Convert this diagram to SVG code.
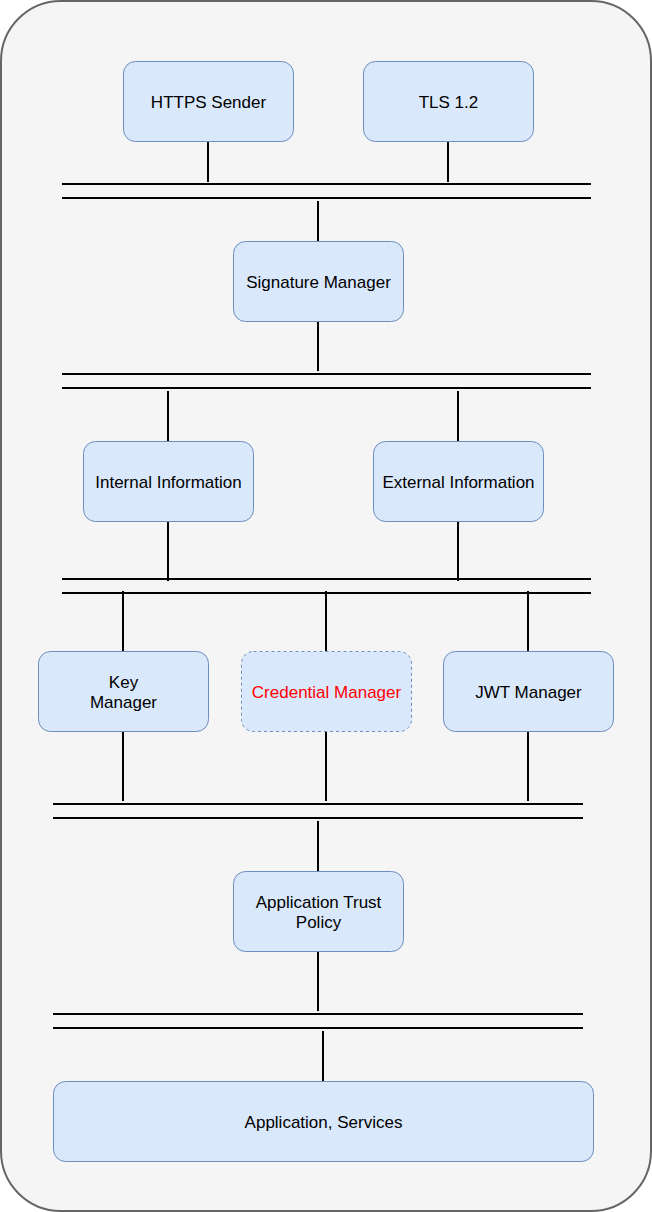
<svg xmlns="http://www.w3.org/2000/svg" width="652" height="1212" viewBox="0 0 652 1212">
<style>
.box{fill:#dae8fc;stroke:#6c8ebf;stroke-width:1}
.dash{stroke-dasharray:3 3}
.t{font-family:"Liberation Sans",Arial,sans-serif;font-size:17px;fill:#000;text-anchor:middle}
.red{fill:#ff0000}
.ln{stroke:#000;stroke-width:2;fill:none}
</style>
<rect x="1" y="1" width="650" height="1210" rx="60" ry="60" fill="#f5f5f5" stroke="#666666" stroke-width="2"/>
<g id="connectors">
<path class="ln" d="M62 184H591M62 198H591"/>
<path class="ln" d="M62 374H591M62 388H591"/>
<path class="ln" d="M62 579H591M62 593H591"/>
<path class="ln" d="M53 804H583M53 818H583"/>
<path class="ln" d="M53 1014H583M53 1028H583"/>
<path class="ln" d="M208 141V182M448 141V182"/>
<path class="ln" d="M318 201V241M318 321V371"/>
<path class="ln" d="M168 391V441M458 391V441"/>
<path class="ln" d="M168 521V581M458 521V581"/>
<path class="ln" d="M123 591V651M326 591V651M528 591V651"/>
<path class="ln" d="M123 731V801M326 731V801M528 731V801"/>
<path class="ln" d="M318 821V871M318 951V1011"/>
<path class="ln" d="M323 1031V1081"/>
</g>
<g id="https-sender"><rect class="box" x="123.5" y="61.5" width="170" height="80" rx="12"/><text class="t" x="208.5" y="107.5">HTTPS Sender</text></g>
<g id="tls"><rect class="box" x="363.5" y="61.5" width="170" height="80" rx="12"/><text class="t" x="448.5" y="107.5">TLS 1.2</text></g>
<g id="signature-manager"><rect class="box" x="233.5" y="241.5" width="170" height="80" rx="12"/><text class="t" x="318.5" y="287.5">Signature Manager</text></g>
<g id="internal-information"><rect class="box" x="83.5" y="441.5" width="170" height="80" rx="12"/><text class="t" x="168.5" y="487.5">Internal Information</text></g>
<g id="external-information"><rect class="box" x="373.5" y="441.5" width="170" height="80" rx="12"/><text class="t" x="458.5" y="487.5">External Information</text></g>
<g id="key-manager"><rect class="box" x="38.5" y="651.5" width="170" height="80" rx="12"/><text class="t" x="123.5" y="687.5">Key</text><text class="t" x="123.5" y="707.5">Manager</text></g>
<g id="credential-manager"><rect class="box dash" x="241.5" y="651.5" width="170" height="80" rx="12"/><text class="t red" x="326.5" y="697.5">Credential Manager</text></g>
<g id="jwt-manager"><rect class="box" x="443.5" y="651.5" width="170" height="80" rx="12"/><text class="t" x="528.5" y="697.5">JWT Manager</text></g>
<g id="application-trust-policy"><rect class="box" x="233.5" y="871.5" width="170" height="80" rx="12"/><text class="t" x="318.5" y="907.5">Application Trust</text><text class="t" x="318.5" y="927.5">Policy</text></g>
<g id="application-services"><rect class="box" x="53.5" y="1081.5" width="540" height="80" rx="12"/><text class="t" x="323.5" y="1127.5">Application, Services</text></g>
</svg>
